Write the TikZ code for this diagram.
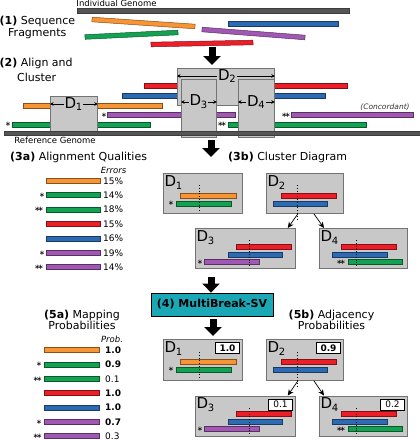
\documentclass[tikz,border=0pt]{standalone}
\usepackage{fontspec}
\setmainfont{DejaVu Sans}
\usetikzlibrary{arrows.meta,calc}

\definecolor{rdorange}{RGB}{247,148,51}
\definecolor{rdgreen}{RGB}{18,162,82}
\definecolor{rdred}{RGB}{236,30,40}
\definecolor{rdblue}{RGB}{44,106,180}
\definecolor{rdpurple}{RGB}{160,88,178}
\definecolor{boxgray}{RGB}{200,200,200}
\definecolor{boxedge}{RGB}{115,115,115}
\definecolor{genome}{RGB}{85,85,85}
\definecolor{mbteal}{RGB}{26,168,182}

\newcommand\readbar[4]{\draw[line width=.5pt,fill=#4,draw=#4!55!black] (#1,#3-2.6) rectangle (#2,#3+2.6);}
\newcommand\frag[3]{\draw[line width=.5pt,fill=#3,draw=#3!55!black]
  ($(#1)!2.3pt!90:(#2)$) -- ($(#2)!2.3pt!-90:(#1)$) -- ($(#2)!2.3pt!90:(#1)$) -- ($(#1)!2.3pt!-90:(#2)$) -- cycle;}
\newcommand\dsub[1]{D\kern-.3pt\raisebox{-.35ex}{\fontsize{10}{10}\selectfont #1}}

\begin{document}
\begin{tikzpicture}[x=1pt,y=-1pt,
  clbox/.style={draw=boxedge,fill=boxgray,line width=.8pt,inner sep=0pt,anchor=north west},
  dlabel/.style={font=\fontsize{15}{15}\selectfont,inner sep=.5pt},
  dimarr/.style={-{Stealth[length=3.5pt,width=3.5pt]},line width=.6pt},
  conn/.style={-{Stealth[length=6pt,width=5.5pt]},line width=.7pt},
  bigarr/.style={-{Triangle[length=9pt,width=17pt]},line width=7pt},
  sect/.style={font=\fontsize{11}{11}\selectfont,inner sep=0pt},
  lbl/.style={font=\fontsize{8.5}{9}\selectfont,inner sep=0pt},
  mk/.style={font=\fontsize{7}{7}\selectfont,inner sep=0pt},
  val/.style={font=\fontsize{9}{9}\selectfont,inner sep=0pt,anchor=west},
  valbox/.style={draw,fill=white,line width=.6pt,inner sep=0pt,font=\fontsize{9}{9}\selectfont,minimum width=24pt,minimum height=11pt,anchor=north east},
  dots/.style={dotted,line width=.8pt}
]
\useasboundingbox (0,0) rectangle (420,440);

% (1) fragments of the individual genome
\node[lbl] (indiv) at (116.5,3.5) {Individual Genome};
\draw[fill=genome,draw=genome!70!black,line width=.4pt] (77,8) rectangle (349,13);
\node[sect,anchor=west] (s1) at (-0.5,21) {\textbf{(1)} Sequence};
\node[sect,anchor=west] (s1b) at (8,34) {Fragments};
\frag{92,19.5}{195,26.5}{rdorange}
\frag{85,37}{178,32.5}{rdgreen}
\frag{202,29.5}{305,37.5}{rdpurple}
\frag{228,24}{338,24}{rdblue}
\frag{151,44.5}{253,42.5}{rdred}

\coordinate (a1s) at (212,47);
\coordinate (a1e) at (212,65);
\draw[bigarr] (a1s) -- (a1e);

% (2) alignment to the reference
\node[sect,anchor=west] (s2) at (-0.5,63) {\textbf{(2)} Align and};
\node[sect,anchor=west] (s2b) at (17,77) {Cluster};

\readbar{144}{347}{85.5}{rdred}
\readbar{122}{325}{95.5}{rdblue}
\readbar{23}{162}{105.5}{rdorange}
\readbar{107}{235}{115}{rdpurple}
\readbar{291}{413}{115}{rdpurple}
\readbar{12}{150}{124.5}{rdgreen}
\readbar{228}{366}{124.5}{rdgreen}
\node[mk] (m1) at (8,124.5) {∗};
\node[mk] (m2) at (104,115) {∗};
\node[mk] (m3) at (222,124.5) {∗\kern-2.5pt∗};
\node[mk] (m4) at (286,115) {∗\kern-2.5pt∗};
\node[font=\fontsize{7.5}{8}\selectfont\itshape,inner sep=0pt,text=black!80] (conc) at (385,107.5) {(Concordant)};

\node[clbox,minimum width=47pt,minimum height=39pt] (bd1) at (50,96) {};
\node[clbox,minimum width=97pt,minimum height=37pt] (bd2) at (177,68) {};
\node[clbox,minimum width=35pt,minimum height=58pt] (bd3) at (181,79) {};
\node[clbox,minimum width=36pt,minimum height=58pt] (bd4) at (238,79) {};
\draw[fill=genome,draw=genome!70!black,line width=.4pt] (4,131) rectangle (420,135);
\node[lbl] (refg) at (55,140) {Reference Genome};

\node[dlabel] (dl1) at (73.5,104) {\dsub{1}};
\draw[dimarr] (dl1) -- (dl1 -| bd1.west);
\draw[dimarr] (dl1) -- (dl1 -| bd1.east);
\node[dlabel] (dl2) at (227,76) {\dsub{2}};
\draw[dimarr] (dl2) -- (dl2 -| bd2.west);
\draw[dimarr] (dl2) -- (dl2 -| bd2.east);
\node[dlabel] (dl3) at (198.5,102) {\dsub{3}};
\draw[dimarr] (dl3) -- (dl3 -| bd3.west);
\draw[dimarr] (dl3) -- (dl3 -| bd3.east);
\node[dlabel] (dl4) at (256,102) {\dsub{4}};
\draw[dimarr] (dl4) -- (dl4 -| bd4.west);
\draw[dimarr] (dl4) -- (dl4 -| bd4.east);

\coordinate (a2s) at (211,140);
\coordinate (a2e) at (211,157);
\draw[bigarr] (a2s) -- (a2e);

% (3a) alignment qualities
\node[sect,anchor=west] (s3a) at (10,157) {\textbf{(3a)} Alignment Qualities};
\node[font=\fontsize{8.5}{9}\selectfont\itshape,inner sep=0pt] (err) at (113.5,170) {Errors};
\readbar{46}{100}{181}{rdorange}   \node[val] (e1) at (103,181) {15\%};
\readbar{46}{100}{195}{rdgreen}    \node[val] (e2) at (103,195) {14\%};
\readbar{46}{100}{209.5}{rdgreen}  \node[val] (e3) at (103,209.5) {18\%};
\readbar{46}{100}{224}{rdred}      \node[val] (e4) at (103,224) {15\%};
\readbar{46}{100}{238.5}{rdblue}   \node[val] (e5) at (103,238.5) {16\%};
\readbar{46}{100}{253}{rdpurple}   \node[val] (e6) at (103,253) {19\%};
\readbar{46}{100}{267}{rdpurple}   \node[val] (e7) at (103,267) {14\%};
\node[mk] (q2) at (42,195) {∗};
\node[mk] (q3) at (39,209.5) {∗\kern-2.5pt∗};
\node[mk] (q6) at (42,253) {∗};
\node[mk] (q7) at (39,267) {∗\kern-2.5pt∗};

% (3b) cluster diagram
\node[sect,anchor=west] (s3b) at (228,157) {\textbf{(3b)} Cluster Diagram};

\node[clbox,minimum width=79pt,minimum height=40pt] (cb1) at (163,173) {};
\node[dlabel,anchor=north west] (cd1) at ([shift={(1,1.5)}]cb1.north west) {\dsub{1}};
\readbar{180}{236}{195.5}{rdorange}
\readbar{176}{231}{203.5}{rdgreen}
\node[mk] (c1m) at (171,203.5) {∗};
\draw[dots] (199,185) -- (199,212.5);

\node[clbox,minimum width=77pt,minimum height=40pt] (cb2) at (266,173) {};
\node[dlabel,anchor=north west] (cd2) at ([shift={(1,1.5)}]cb2.north west) {\dsub{2}};
\readbar{281}{336}{195.5}{rdred}
\readbar{273}{327}{203.5}{rdblue}
\draw[dots] (297,185) -- (297,219);

\node[clbox,minimum width=100pt,minimum height=40pt] (cb3) at (195,228) {};
\node[dlabel,anchor=north west] (cd3) at ([shift={(1,1.5)}]cb3.north west) {\dsub{3}};
\readbar{236}{291}{247}{rdred}
\readbar{228}{282}{254.5}{rdblue}
\readbar{204}{259}{262}{rdpurple}
\node[mk] (c3m) at (200,262) {∗};
\draw[dots] (249,240) -- (249,268);

\node[clbox,minimum width=88pt,minimum height=40pt] (cb4) at (319,228) {};
\node[dlabel,anchor=north west] (cd4) at ([shift={(1,1.5)}]cb4.north west) {\dsub{4}};
\readbar{341}{396}{247}{rdred}
\readbar{332}{387}{254.5}{rdblue}
\readbar{348}{402}{262}{rdgreen}
\node[mk] (c4m) at (341,262) {∗\kern-2.5pt∗};
\draw[dots] (356,240) -- (356,268);

\draw[conn] ([xshift=-7pt]cb2.south) -- ([xshift=-8pt]cb3.north east);
\draw[conn] ([xshift=9pt]cb2.south) -- ([xshift=5pt]cb4.north west);

% (4) MultiBreak-SV
\coordinate (a3s) at (211,277);
\node[draw=black,fill=mbteal,line width=.8pt,minimum width=122pt,minimum height=23pt,inner sep=0pt,
  font=\fontsize{11}{11}\selectfont\bfseries] (mb) at (212,304.5) {(4) MultiBreak-SV};
\draw[bigarr] (a3s) -- (a3s |- mb.north);
\coordinate (a4s) at (213,319);
\coordinate (a4e) at (213,336);
\draw[bigarr] (a4s) -- (a4e);

% (5a) mapping probabilities
\node[sect,align=center] (s5a) at (82,319.5) {\textbf{(5a)} Mapping\\Probabilities};
\node[font=\fontsize{8.5}{9}\selectfont\itshape,inner sep=0pt] (prob) at (112,339) {Prob.};
\readbar{44}{99}{350}{rdorange}    \node[val] (p1) at (105,350) {\textbf{1.0}};
\readbar{44}{99}{364.5}{rdgreen}   \node[val] (p2) at (105,364.5) {\textbf{0.9}};
\readbar{44}{99}{379}{rdgreen}     \node[val] (p3) at (105,379) {0.1};
\readbar{44}{99}{393}{rdred}       \node[val] (p4) at (105,393) {\textbf{1.0}};
\readbar{44}{99}{407.5}{rdblue}    \node[val] (p5) at (105,407.5) {\textbf{1.0}};
\readbar{44}{99}{422}{rdpurple}    \node[val] (p6) at (105,422) {\textbf{0.7}};
\readbar{44}{99}{436}{rdpurple}    \node[val] (p7) at (105,436) {0.3};
\node[mk] (r2) at (39,364.5) {∗};
\node[mk] (r3) at (37.5,379) {∗\kern-2.5pt∗};
\node[mk] (r6) at (39,422) {∗};
\node[mk] (r7) at (37.5,436) {∗\kern-2.5pt∗};

% (5b) adjacency probabilities
\node[sect,align=center] (s5b) at (331.5,319.5) {\textbf{(5b)} Adjacency\\Probabilities};

\node[clbox,minimum width=79pt,minimum height=41pt] (pb1) at (163,339) {};
\node[dlabel,anchor=north west] (pd1) at ([shift={(1,1.5)}]pb1.north west) {\dsub{1}};
\node[valbox] (v1) at ([shift={(-3,3)}]pb1.north east) {\textbf{1.0}};
\readbar{180}{236}{361.5}{rdorange}
\readbar{176}{231}{369.5}{rdgreen}
\node[mk] (p1m) at (171,369.5) {∗};
\draw[dots] (199,352) -- (199,380);

\node[clbox,minimum width=77pt,minimum height=41pt] (pb2) at (266,339) {};
\node[dlabel,anchor=north west] (pd2) at ([shift={(1,1.5)}]pb2.north west) {\dsub{2}};
\node[valbox] (v2) at ([shift={(-3,3)}]pb2.north east) {\textbf{0.9}};
\readbar{281}{336}{361.5}{rdred}
\readbar{273}{327}{369.5}{rdblue}
\draw[dots] (297,352) -- (297,386);

\node[clbox,minimum width=100pt,minimum height=40pt] (pb3) at (195,395.5) {};
\node[dlabel,anchor=north west] (pd3) at ([shift={(1,1.5)}]pb3.north west) {\dsub{3}};
\node[valbox] (v3) at ([shift={(-3,3)}]pb3.north east) {0.1};
\readbar{236}{291}{414}{rdred}
\readbar{228}{282}{421.5}{rdblue}
\readbar{204}{259}{429}{rdpurple}
\node[mk] (p3m) at (200,429) {∗};
\draw[dots] (249,408) -- (249,435.5);

\node[clbox,minimum width=88pt,minimum height=40pt] (pb4) at (319,395.5) {};
\node[dlabel,anchor=north west] (pd4) at ([shift={(1,1.5)}]pb4.north west) {\dsub{4}};
\node[valbox] (v4) at ([shift={(-3,3)}]pb4.north east) {0.2};
\readbar{341}{396}{414}{rdred}
\readbar{332}{387}{421.5}{rdblue}
\readbar{348}{402}{429}{rdgreen}
\node[mk] (p4m) at (341,429) {∗\kern-2.5pt∗};
\draw[dots] (356,408) -- (356,435.5);

\draw[conn] ([xshift=-7pt]pb2.south) -- ([xshift=-8pt]pb3.north east);
\draw[conn] ([xshift=9pt]pb2.south) -- ([xshift=5pt]pb4.north west);
\end{tikzpicture}
\end{document}
